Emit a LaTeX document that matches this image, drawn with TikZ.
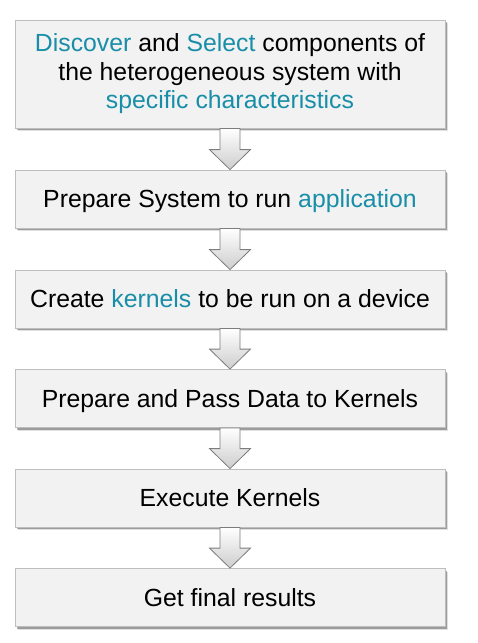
\documentclass[tikz,border=0pt]{standalone}
\usepackage{fontspec}
\setmainfont{Liberation Sans}
\usetikzlibrary{calc,shadows}
\definecolor{teal1}{RGB}{24,142,168}
\definecolor{boxfill}{RGB}{242,242,242}
\definecolor{boxline}{RGB}{190,190,190}
\definecolor{arrline}{RGB}{125,125,125}
\definecolor{arrbot}{RGB}{205,205,205}
\newcommand{\hl}[1]{\textcolor{teal1}{#1}}
\tikzset{
  stepbox/.style={draw=boxline, line width=0.6pt, fill=boxfill,
    minimum width=322.5pt, minimum height=43.5pt, inner sep=0pt,
    align=center, font=\fontsize{18.6pt}{21.4pt}\selectfont,
    drop shadow={shadow xshift=2.6pt, shadow yshift=-2.6pt, fill=black, opacity=0.12},
    drop shadow={shadow xshift=1.6pt, shadow yshift=-1.6pt, fill=black, opacity=0.3}},
  oneline/.style={text height=13.3pt, text depth=0pt},
  flowarrow/.style={draw=arrline, line width=0.6pt, top color=white, bottom color=arrbot, line join=miter}
}
\newcommand{\downarrowbetween}[2]{%
  \path[flowarrow] ($(#1.south)+(-10,0)$) -- ($(#1.south)+(10,0)$)
    -- ($(#2.north)+(10,-20)$) -- ($(#2.north)+(20.5,-20)$)
    -- (#2.north) -- ($(#2.north)+(-20.5,-20)$) -- ($(#2.north)+(-10,-20)$) -- cycle;}
\begin{document}
\begin{tikzpicture}[x=0.75pt,y=-0.75pt]
\useasboundingbox[fill=white] (0,0) rectangle (478,643);
\node[stepbox, minimum height=81pt] (b1) at (230,74) {\hl{Discover} and \hl{Select} components of\\the heterogeneous system with\\\hl{specific characteristics}};
\node[stepbox, oneline] (b2) at (230,199) {Prepare System to run \hl{application}};
\node[stepbox, oneline] (b3) at (230,299) {Create \hl{kernels} to be run on a device};
\node[stepbox, oneline] (b4) at (230,398.5) {Prepare and Pass Data to Kernels};
\node[stepbox, oneline] (b5) at (230,498) {Execute Kernels};
\node[stepbox, oneline] (b6) at (230,597.5) {Get final results};
\downarrowbetween{b1}{b2}
\downarrowbetween{b2}{b3}
\downarrowbetween{b3}{b4}
\downarrowbetween{b4}{b5}
\downarrowbetween{b5}{b6}
\end{tikzpicture}
\end{document}
